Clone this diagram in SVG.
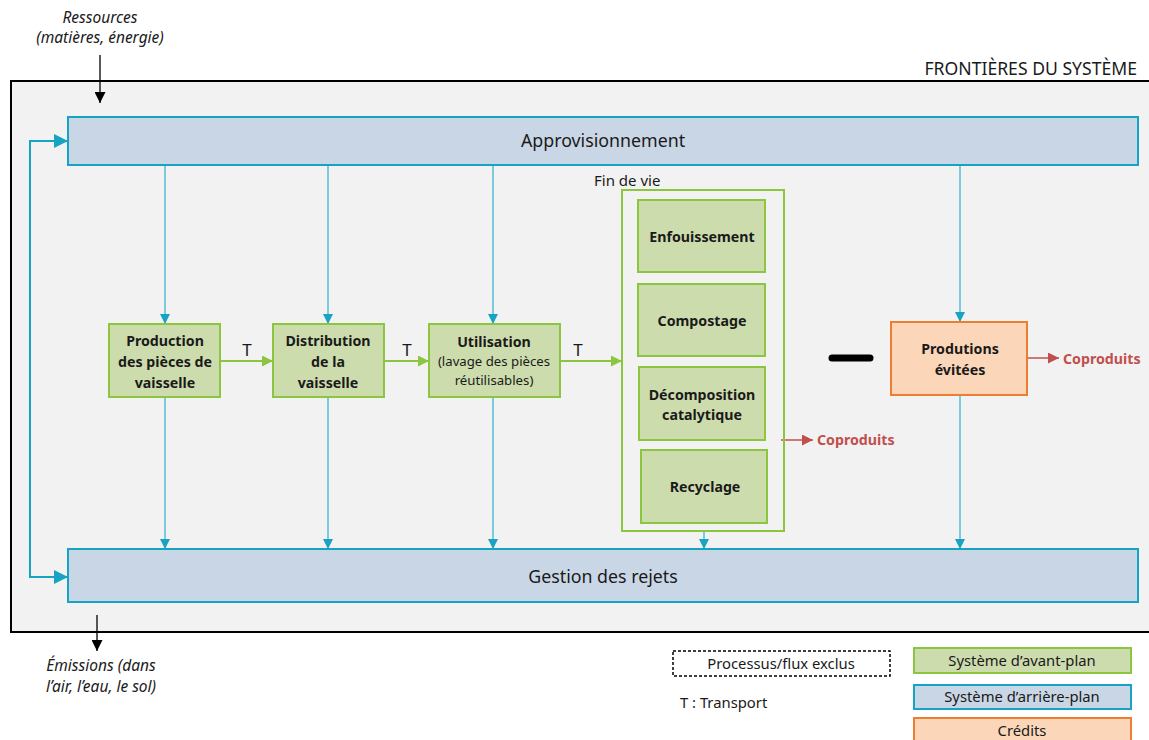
<svg xmlns="http://www.w3.org/2000/svg" width="1149" height="740" viewBox="0 0 1149 740">
<defs>
<style>
text{font-family:"Noto Sans","Open Sans",sans-serif;fill:#1a1a1a}
.b{font-weight:bold;font-size:14.2px}
.green{fill:#cddcad;stroke:#8cc63f;stroke-width:2}
.blue{fill:#c9d6e5;stroke:#17a3c3;stroke-width:2}
.orange{fill:#fbd6b8;stroke:#ed7d31;stroke-width:2}
.vl{stroke:#3cb4d2;stroke-width:1.3;fill:none}
.gl{stroke:#8cc63f;stroke-width:2;fill:none}
.it{font-style:italic;font-size:15.5px}
.lg{font-size:14.8px}
.t{font-size:17px}
</style>
<marker id="ab" viewBox="0 0 10 10" refX="10" refY="5" markerWidth="10" markerHeight="10" markerUnits="userSpaceOnUse" orient="auto"><path d="M0,0 L10,5 L0,10 Z" fill="#17a3c3"/></marker>
<marker id="abig" viewBox="0 0 10 10" refX="10" refY="5" markerWidth="14" markerHeight="14" markerUnits="userSpaceOnUse" orient="auto"><path d="M0,0 L10,5 L0,10 Z" fill="#17a3c3"/></marker>
<marker id="ag" viewBox="0 0 10 10" refX="10" refY="5" markerWidth="11" markerHeight="11" markerUnits="userSpaceOnUse" orient="auto"><path d="M0,0 L10,5 L0,10 Z" fill="#8cc63f"/></marker>
<marker id="ar" viewBox="0 0 10 10" refX="10" refY="5" markerWidth="11" markerHeight="11" markerUnits="userSpaceOnUse" orient="auto"><path d="M0,0 L10,5 L0,10 Z" fill="#c0504d"/></marker>
<marker id="ak" viewBox="0 0 10 10" refX="10" refY="5" markerWidth="11" markerHeight="11" markerUnits="userSpaceOnUse" orient="auto"><path d="M0,0 L10,5 L0,10 Z" fill="#000"/></marker>
</defs>
<rect width="1149" height="740" fill="#fff"/>
<g id="frontiere">
<rect x="11" y="81" width="1150" height="551" fill="#f2f2f2" stroke="#000" stroke-width="2"/>
<text x="1137" y="75" font-size="17.6" text-anchor="end">FRONTIÈRES DU SYSTÈME</text>
</g>
<g id="connectors">
<line x1="100" y1="55" x2="100" y2="103" stroke="#000" stroke-width="1.3" marker-end="url(#ak)"/>
<line x1="97" y1="615" x2="97" y2="651" stroke="#000" stroke-width="1.3" marker-end="url(#ak)"/>
<polyline points="68,141 30,141 30,577 68,577" fill="none" stroke="#17a3c3" stroke-width="2"/>
<line x1="30" y1="141" x2="68" y2="141" stroke="#17a3c3" stroke-width="2" marker-end="url(#abig)"/>
<line x1="30" y1="577" x2="68" y2="577" stroke="#17a3c3" stroke-width="2" marker-end="url(#abig)"/>
<line x1="165" y1="165" x2="165" y2="324" class="vl" marker-end="url(#ab)"/>
<line x1="328" y1="165" x2="328" y2="324" class="vl" marker-end="url(#ab)"/>
<line x1="493" y1="165" x2="493" y2="324" class="vl" marker-end="url(#ab)"/>
<line x1="960" y1="165" x2="960" y2="322" class="vl" marker-end="url(#ab)"/>
<line x1="165" y1="397" x2="165" y2="549" class="vl" marker-end="url(#ab)"/>
<line x1="328" y1="397" x2="328" y2="549" class="vl" marker-end="url(#ab)"/>
<line x1="493" y1="397" x2="493" y2="549" class="vl" marker-end="url(#ab)"/>
<line x1="704" y1="531" x2="704" y2="549" class="vl" marker-end="url(#ab)"/>
<line x1="960" y1="395" x2="960" y2="549" class="vl" marker-end="url(#ab)"/>
<line x1="220" y1="361" x2="273" y2="361" class="gl" marker-end="url(#ag)"/>
<line x1="384" y1="361" x2="429" y2="361" class="gl" marker-end="url(#ag)"/>
<line x1="560" y1="361" x2="622" y2="361" class="gl" marker-end="url(#ag)"/>
<line x1="781" y1="440" x2="813" y2="440" stroke="#c0504d" stroke-width="1.5" marker-end="url(#ar)"/>
<line x1="1027" y1="358" x2="1059" y2="358" stroke="#c0504d" stroke-width="1.5" marker-end="url(#ar)"/>
</g>
<g id="labels-ext">
<text x="100" y="23" class="it" text-anchor="middle">Ressources</text>
<text x="100" y="43" class="it" text-anchor="middle">(matières, énergie)</text>
<text x="101" y="671" class="it" text-anchor="middle">Émissions (dans</text>
<text x="101" y="692" class="it" text-anchor="middle">l’air, l’eau, le sol)</text>
<text x="247" y="356" class="t" text-anchor="middle">T</text>
<text x="407" y="356" class="t" text-anchor="middle">T</text>
<text x="578" y="356" class="t" text-anchor="middle">T</text>
</g>
<g id="approvisionnement">
<rect x="68" y="117" width="1070" height="48" class="blue"/>
<text x="603" y="147" font-size="17.8" text-anchor="middle">Approvisionnement</text>
</g>
<g id="gestion">
<rect x="68" y="549" width="1070" height="53" class="blue"/>
<text x="603" y="583" font-size="17.8" text-anchor="middle">Gestion des rejets</text>
</g>
<g id="production">
<rect x="109" y="324" width="111" height="73" class="green"/>
<text class="b" text-anchor="middle" x="165" y="346">Production</text>
<text class="b" text-anchor="middle" x="165" y="367">des pièces de</text>
<text class="b" text-anchor="middle" x="165" y="388">vaisselle</text>
</g>
<g id="distribution">
<rect x="273" y="324" width="111" height="73" class="green"/>
<text class="b" text-anchor="middle" x="328" y="346">Distribution</text>
<text class="b" text-anchor="middle" x="328" y="367">de la</text>
<text class="b" text-anchor="middle" x="328" y="388">vaisselle</text>
</g>
<g id="utilisation">
<rect x="429" y="324" width="131" height="73" class="green"/>
<text class="b" text-anchor="middle" x="494" y="347">Utilisation</text>
<text text-anchor="middle" x="494" y="366" font-size="13.2">(lavage des pièces</text>
<text text-anchor="middle" x="494" y="385" font-size="13.2">réutilisables)</text>
</g>
<g id="findevie">
<rect x="622" y="190" width="162" height="341" fill="none" stroke="#8cc63f" stroke-width="2"/>
<text x="594" y="186" font-size="15">Fin de vie</text>
</g>
<g id="enfouissement">
<rect x="638" y="200" width="127" height="72" class="green"/>
<text class="b" text-anchor="middle" x="702" y="242">Enfouissement</text>
</g>
<g id="compostage">
<rect x="638" y="284" width="127" height="72" class="green"/>
<text class="b" text-anchor="middle" x="702" y="326">Compostage</text>
</g>
<g id="decomposition">
<rect x="639" y="367" width="126" height="73" class="green"/>
<text class="b" text-anchor="middle" x="702" y="400">Décomposition</text>
<text class="b" text-anchor="middle" x="702" y="420">catalytique</text>
</g>
<g id="recyclage">
<rect x="641" y="450" width="126" height="73" class="green"/>
<text class="b" text-anchor="middle" x="705" y="492">Recyclage</text>
</g>
<g id="coproduits1">
<text x="817" y="445" class="b" style="fill:#c0504d">Coproduits</text>
</g>
<g id="moins">
<line x1="832" y1="358" x2="870" y2="358" stroke="#000" stroke-width="7" stroke-linecap="round"/>
</g>
<g id="evitees">
<rect x="891" y="322" width="136" height="73" class="orange"/>
<text class="b" text-anchor="middle" x="960" y="354">Produtions</text>
<text class="b" text-anchor="middle" x="960" y="375">évitées</text>
</g>
<g id="coproduits2">
<text x="1063" y="364" class="b" style="fill:#c0504d">Coproduits</text>
</g>
<g id="legende">
<rect x="673" y="651" width="217" height="25" fill="#fff" stroke="#000" stroke-width="1.5" stroke-dasharray="3,2"/>
<text x="781" y="669" class="lg" text-anchor="middle">Processus/flux exclus</text>
<text x="680" y="708" class="lg">T : Transport</text>
<rect x="914" y="648" width="217" height="25" class="green"/>
<text x="1022" y="666" class="lg" text-anchor="middle">Système d’avant-plan</text>
<rect x="914" y="685" width="217" height="24" class="blue"/>
<text x="1022" y="702" class="lg" text-anchor="middle">Système d’arrière-plan</text>
<rect x="914" y="718" width="217" height="30" class="orange"/>
<text x="1022" y="736" class="lg" text-anchor="middle">Crédits</text>
</g>
</svg>
